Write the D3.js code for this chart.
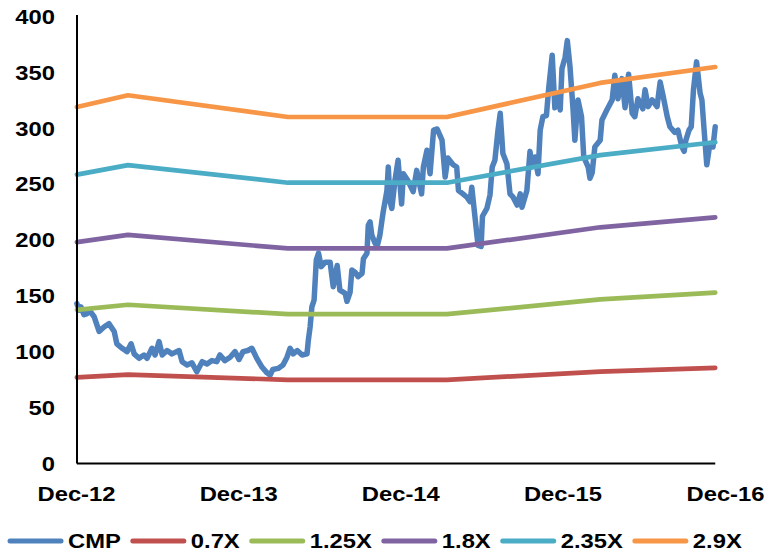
<!DOCTYPE html>
<html>
<head>
<meta charset="utf-8">
<script src="https://cdn.jsdelivr.net/npm/d3@7"></script>
<style>
  html, body { margin: 0; padding: 0; background: #fff; }
  svg { display: block; }
  text { font-family: "Liberation Sans", Arial, sans-serif; font-weight: bold; fill: #000; }
</style>
</head>
<body>
<svg id="chart" width="770" height="556"></svg>
<script>
// ---- data ----
// Share price (CMP): days elapsed since 1 Dec 2012 and closing price
const cmpStart = "2012-12-01";
const cmpDay = [
  2, 7, 11, 18, 25, 32, 41, 52, 63, 74, 86, 92, 104, 115, 124, 131, 142, 153, 160, 171,
  178, 187, 194, 205, 216, 232, 239, 250, 261, 272, 284, 295, 306, 317, 324, 335, 347, 358, 367,
  376, 387, 396, 407, 419, 430, 437, 443, 455, 466, 475, 482, 489, 498, 509, 520, 523, 527, 531,
  536, 541, 546, 552, 561, 572, 579, 588, 594, 606, 610, 617, 621, 628, 635, 644, 647, 655, 658,
  662, 666, 673, 678, 684, 689, 692, 700, 703, 707, 711, 718, 725,
  733, 737, 747, 759, 767, 778, 782, 790, 797, 805, 813, 824, 831, 837, 849, 857, 861, 871, 880,
  887, 891, 898, 905, 912, 915, 925, 932, 937, 943, 950, 955, 961, 970, 977, 984, 993, 1000, 1004,
  1015, 1022, 1026, 1033, 1040, 1045, 1051, 1059, 1064, 1072, 1078, 1085, 1090, 1094, 1101, 1106,
  1112, 1119, 1123, 1130, 1138, 1143, 1153, 1157, 1162, 1168, 1180, 1184, 1195, 1207, 1213, 1220,
  1229, 1236, 1244, 1252, 1258, 1265, 1276, 1281, 1288, 1297, 1308, 1315, 1322, 1331, 1337, 1348,
  1355, 1364, 1369, 1373, 1380, 1385, 1390, 1397, 1405, 1409, 1414, 1420, 1427, 1434, 1439
];
const cmpPrice = [
  143, 137, 140, 133, 134, 136, 131, 118, 122, 125, 118, 107, 103, 100, 107, 98, 94, 97, 94, 103,
  97, 109, 97, 101, 98, 101, 91, 88, 90, 82, 91, 89, 92, 91, 97, 92, 95, 100, 93,
  100, 101, 103, 94, 86, 81, 79, 84, 85, 88, 95, 103, 98, 101, 97, 98, 110, 122, 140,
  146, 182, 188, 176, 180, 180, 158, 177, 155, 152, 145, 153, 173, 171, 167, 170, 183, 188, 213,
  216, 204, 197, 194, 204, 218, 226, 244, 265, 234, 228, 253, 271,
  232, 259, 253, 243, 262, 241, 265, 280, 259, 298, 299, 289, 256, 273, 267, 265, 244, 241, 238,
  234, 247, 221, 195, 194, 221, 228, 240, 265, 271, 298, 313, 277, 268, 241, 238, 231, 241, 229,
  244, 279, 265, 274, 259, 298, 310, 311, 335, 365, 318, 330, 316, 353, 363, 378,
  355, 316, 289, 325, 310, 274, 265, 255, 260, 283, 289, 307, 316, 325, 347, 326,
  344, 318, 348, 313, 310, 326, 317, 334, 319, 325, 319, 341, 328, 310, 301, 296,
  298, 283, 279, 289, 298, 301, 334, 359, 331, 325, 298, 267, 286, 283, 301
];

// Earnings per share used for the P/E bands, at each reporting date
const epsDates = ["2012-12-03", "2013-03-28", "2014-03-23", "2015-03-16", "2016-02-24", "2016-11-09"];
const epsValues = [109.9, 113.5, 106.8, 106.8, 117.3, 122.2];

// P/E multiples drawn as bands
const bandNames = ["0.7X", "1.25X", "1.8X", "2.35X", "2.9X"];
const bandMultiples = [0.7, 1.25, 1.8, 2.35, 2.9];

const seriesNames = ["CMP"].concat(bandNames);
const seriesColors = ["#4F81BD", "#C0504D", "#9BBB59", "#8064A2", "#4BACC6", "#F79646"];

const xTickDates = ["2012-12-01", "2013-12-01", "2014-12-01", "2015-12-01", "2016-12-01"];
const yTicks = [0, 50, 100, 150, 200, 250, 300, 350, 400];

// ---- drawing ----
const parse = d3.timeParse("%Y-%m-%d");
const svg = d3.select("#chart");
const sx = 1.16;          // horizontal stretch of the lettering
const fontSize = 20.5;

const x = d3.scaleTime()
  .domain([parse("2012-12-01"), parse("2016-12-01")])
  .range([76, 725]);
const y = d3.scaleLinear().domain([0, 400]).range([463.5, 16]);

const start = parse(cmpStart);
const cmp = cmpDay.map((d, i) => ({ date: d3.timeDay.offset(start, d), value: cmpPrice[i] }));
const eps = epsDates.map((d, i) => ({ date: parse(d), value: epsValues[i] }));
const bands = bandMultiples.map(m => eps.map(p => ({ date: p.date, value: p.value * m })));

const line = d3.line().x(d => x(d.date)).y(d => y(d.value));

// price line underneath the bands
svg.append("path")
  .datum(cmp)
  .attr("d", line)
  .attr("fill", "none")
  .attr("stroke", seriesColors[0])
  .attr("stroke-width", 5.5)
  .attr("stroke-linejoin", "round")
  .attr("stroke-linecap", "round");

bands.forEach((b, i) => {
  svg.append("path")
    .datum(b)
    .attr("d", line)
    .attr("fill", "none")
    .attr("stroke", seriesColors[i + 1])
    .attr("stroke-width", 4.7)
    .attr("stroke-linejoin", "round")
    .attr("stroke-linecap", "round");
});

// y axis
const yAxisG = svg.append("g")
  .attr("transform", "translate(77,0)")
  .call(d3.axisLeft(y).tickValues(yTicks).tickSize(0).tickPadding(0));
yAxisG.select(".domain").remove();
yAxisG.attr("font-family", null).attr("font-size", null);
yAxisG.selectAll(".tick text")
  .attr("x", 0)
  .attr("dy", "0.35em")
  .attr("text-anchor", "end")
  .attr("transform", `translate(-22,0) scale(${sx},1)`)
  .style("font-size", fontSize + "px");
svg.append("line")
  .attr("x1", 77).attr("x2", 77)
  .attr("y1", y(400) - 1).attr("y2", y(0))
  .attr("stroke", "#000").attr("stroke-width", 2);

// x axis
const xAxisG = svg.append("g")
  .attr("transform", `translate(0,${y(0)})`)
  .call(d3.axisBottom(x)
    .tickValues(xTickDates.map(parse))
    .tickFormat(d3.timeFormat("%b-%y"))
    .tickSize(0).tickPadding(0));
xAxisG.select(".domain").remove();
xAxisG.attr("font-family", null).attr("font-size", null);
xAxisG.selectAll(".tick text")
  .attr("x", 0)
  .attr("y", 0)
  .attr("dy", "0.71em")
  .attr("transform", `translate(0,23) scale(${sx},1)`)
  .style("font-size", fontSize + "px");
svg.append("line")
  .attr("x1", x(cmp[0].date)).attr("x2", x(cmp[cmp.length - 1].date))
  .attr("y1", y(0)).attr("y2", y(0))
  .attr("stroke", "#000").attr("stroke-width", 2);

// legend
const legend = svg.append("g").attr("transform", "translate(0,541)");
let lx = 8;
seriesNames.forEach((name, i) => {
  legend.append("line")
    .attr("x1", lx + 2).attr("x2", lx + 53)
    .attr("y1", 0).attr("y2", 0)
    .attr("stroke", seriesColors[i])
    .attr("stroke-width", 5)
    .attr("stroke-linecap", "round");
  const t = legend.append("text")
    .attr("transform", `translate(${lx + 60},0) scale(${sx},1)`)
    .attr("dy", "0.36em")
    .style("font-size", fontSize + "px")
    .text(name);
  const w = t.node().getComputedTextLength() * sx;
  lx += 60 + w + 10;
});
</script>
</body>
</html>
